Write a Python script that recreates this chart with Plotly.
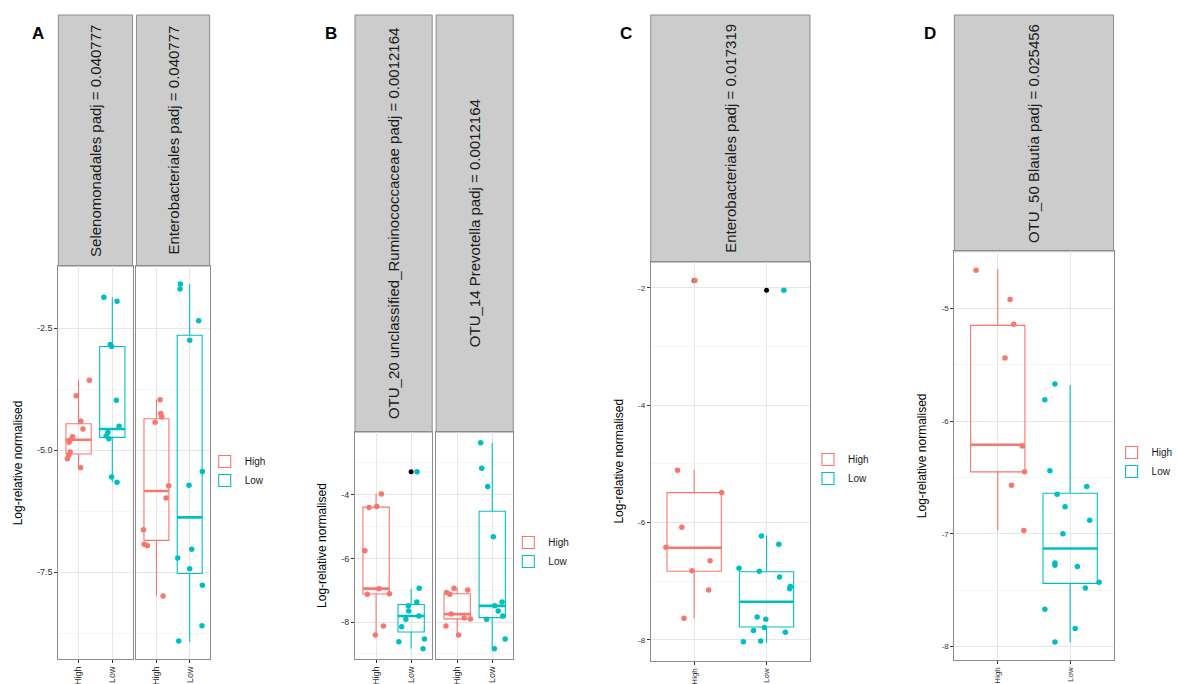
import plotly.graph_objects as go

W, H = 1178, 684
RED = '#F8766D'
TEAL = '#00BFC4'
FONT = 'Liberation Sans, Arial, sans-serif'

GROUPS = ['High', 'Low']
Y_TITLE = 'Log-relative normalised'

# ---------------- data ----------------
# box stats: [lower whisker, q1, median, q3, upper whisker]
# Panel A, facet 1: Selenomonadales
A1_HIGH = [-3.57, -3.89, -4.41, -4.57, -4.73, -4.80, -4.84, -5.04, -5.10, -5.18, -5.36]
A1_HIGH_JIT = [0.32, -0.07, 0.07, 0.13, -0.18, -0.26, -0.28, -0.25, -0.29, -0.33, 0.06]
A1_HIGH_BOX = [-5.36, -5.08, -4.79, -4.46, -3.57]
A1_LOW = [-1.87, -1.95, -2.84, -2.88, -3.98, -4.51, -4.64, -4.71, -4.77, -5.55, -5.66]
A1_LOW_JIT = [-0.25, 0.14, -0.06, -0.02, 0.12, 0.20, -0.13, -0.18, -0.10, -0.02, 0.14]
A1_LOW_BOX = [-5.66, -4.74, -4.57, -2.88, -1.87]

# Panel A, facet 2: Enterobacteriales
A2_HIGH = [-3.97, -4.25, -4.32, -4.43, -5.73, -5.98, -6.63, -6.93, -6.96, -7.99]
A2_HIGH_JIT = [0.11, 0.13, 0.16, -0.04, 0.37, 0.29, -0.39, -0.37, -0.27, 0.20]
A2_HIGH_BOX = [-7.99, -6.85, -5.84, -4.36, -3.97]
A2_LOW = [-1.60, -1.70, -2.35, -2.75, -5.44, -5.72, -7.03, -7.21, -7.43, -7.77, -8.60, -8.91]
A2_LOW_JIT = [-0.28, -0.29, 0.27, 0.0, 0.38, -0.02, 0.06, -0.36, 0.0, 0.38, 0.37, -0.33]
A2_LOW_BOX = [-8.93, -7.53, -6.38, -2.65, -1.60]

# Panel B, facet 1: OTU_20
B1_HIGH = [-3.98, -4.40, -4.37, -5.76, -6.95, -7.13, -7.11, -8.12, -8.41]
B1_HIGH_JIT = [0.15, -0.20, 0.02, -0.32, 0.08, -0.25, 0.38, 0.21, -0.02]
B1_HIGH_BOX = [-8.41, -7.12, -6.95, -4.39, -3.98]
B1_LOW = [-3.28, -6.94, -7.49, -7.37, -7.65, -7.81, -7.91, -8.15, -8.62, -8.53, -8.84]
B1_LOW_JIT = [0.17, 0.23, -0.08, 0.16, -0.07, 0.22, -0.15, -0.27, -0.35, 0.38, 0.34]
B1_LOW_BOX = [-8.84, -8.31, -7.81, -7.45, -6.95]
B1_LOW_OUT = [-3.28]

# Panel B, facet 2: OTU_14
B2_HIGH = [-6.94, -6.99, -7.07, -7.13, -7.75, -7.87, -7.90, -8.12, -8.41]
B2_HIGH_JIT = [-0.09, 0.30, -0.30, -0.21, -0.17, 0.20, 0.38, -0.32, 0.04]
B2_HIGH_BOX = [-8.41, -7.90, -7.75, -7.11, -6.93]
B2_LOW = [-2.37, -3.17, -3.74, -5.32, -7.49, -7.37, -7.65, -7.81, -7.91, -8.53, -8.84]
B2_LOW_JIT = [-0.33, -0.30, -0.13, 0.03, 0.07, 0.28, 0.17, 0.30, -0.16, 0.37, 0.06]
B2_LOW_BOX = [-8.84, -7.86, -7.49, -4.52, -2.37]

# Panel C: Enterobacteriales
C_HIGH = [-1.875, -5.11, -5.49, -6.08, -6.42, -6.65, -6.82, -7.15, -7.63]
C_HIGH_JIT = [0.01, -0.23, 0.38, -0.17, -0.39, 0.22, -0.03, 0.20, -0.14]
C_HIGH_BOX = [-7.63, -6.83, -6.43, -5.49, -5.10]
C_HIGH_OUT = [-1.875]
C_LOW = [-2.04, -6.23, -6.37, -6.78, -6.83, -6.93, -7.09, -7.13, -7.61, -7.65, -7.79, -7.84, -7.87, -8.03, -8.02]
C_LOW_JIT = [0.24, -0.07, 0.17, -0.38, -0.10, 0.18, 0.33, 0.32, -0.13, -0.01, -0.03, -0.18, 0.26, -0.32, -0.08]
C_LOW_BOX = [-8.05, -7.78, -7.35, -6.84, -6.22]
C_LOW_OUT = [-2.04]

# Panel D: OTU_50 Blautia
D_HIGH = [-4.66, -4.92, -5.14, -5.44, -6.22, -6.45, -6.57, -6.97]
D_HIGH_JIT = [-0.30, 0.17, 0.22, 0.10, 0.34, 0.37, 0.19, 0.36]
D_HIGH_BOX = [-6.97, -6.45, -6.21, -5.15, -4.65]
D_LOW = [-5.67, -5.81, -6.44, -6.58, -6.65, -6.76, -6.88, -7.00, -7.26, -7.28, -7.29, -7.43, -7.48, -7.67, -7.84, -7.96]
D_LOW_JIT = [-0.21, -0.35, -0.28, 0.23, -0.18, -0.07, 0.27, -0.10, -0.21, -0.21, 0.10, 0.40, 0.21, -0.35, 0.07, -0.21]
D_LOW_BOX = [-7.96, -7.44, -7.13, -6.64, -5.68]

# strip labels
STRIP_A1 = 'Selenomonadales padj = 0.040777'
STRIP_A2 = 'Enterobacteriales padj = 0.040777'
STRIP_B1 = 'OTU_20 unclassified_Ruminococcaceae padj = 0.0012164'
STRIP_B2 = 'OTU_14 Prevotella padj = 0.0012164'
STRIP_C = 'Enterobacteriales padj = 0.017319'
STRIP_D = 'OTU_50 Blautia padj = 0.025456'

# y tick values / labels
TICKS_A = [-7.5, -5.0, -2.5]
TICKTEXT_A = ['-7.5', '-5.0', '-2.5']
TICKS_B = [-8, -6, -4]
TICKTEXT_B = ['-8', '-6', '-4']
TICKS_C = [-8, -6, -4, -2]
TICKTEXT_C = ['-8', '-6', '-4', '-2']
TICKS_D = [-8, -7, -6, -5]
TICKTEXT_D = ['-8', '-7', '-6', '-5']

# ---------------- layout geometry (pixels) ----------------
FACETS = [
    dict(n=1, panel='A', first=True, strip=STRIP_A1, x=(59, 134), strip_top=15, y=(266, 659),
         yrange=(-9.28, -1.23), ticks=(TICKS_A, TICKTEXT_A), minor=1.25,
         high=(A1_HIGH, A1_HIGH_JIT, A1_HIGH_BOX, []), low=(A1_LOW, A1_LOW_JIT, A1_LOW_BOX, []),
         legend='legend', tick_size=9),
    dict(n=2, panel='A', first=False, strip=STRIP_A2, x=(138, 212), strip_top=15, y=(266, 659),
         yrange=(-9.28, -1.23), ticks=(TICKS_A, TICKTEXT_A), minor=1.25,
         high=(A2_HIGH, A2_HIGH_JIT, A2_HIGH_BOX, []), low=(A2_LOW, A2_LOW_JIT, A2_LOW_BOX, []),
         legend='legend', tick_size=9),
    dict(n=3, panel='B', first=True, strip=STRIP_B1, x=(359, 437), strip_top=15, y=(432, 659),
         yrange=(-9.16, -2.03), ticks=(TICKS_B, TICKTEXT_B), minor=1,
         high=(B1_HIGH, B1_HIGH_JIT, B1_HIGH_BOX, []), low=(B1_LOW, B1_LOW_JIT, B1_LOW_BOX, B1_LOW_OUT),
         legend='legend2', tick_size=9),
    dict(n=4, panel='B', first=False, strip=STRIP_B2, x=(441, 519), strip_top=15, y=(432, 659),
         yrange=(-9.16, -2.03), ticks=(TICKS_B, TICKTEXT_B), minor=1,
         high=(B2_HIGH, B2_HIGH_JIT, B2_HIGH_BOX, []), low=(B2_LOW, B2_LOW_JIT, B2_LOW_BOX, []),
         legend='legend2', tick_size=9),
    dict(n=5, panel='C', first=True, strip=STRIP_C, x=(658, 819), strip_top=15, y=(262, 661),
         yrange=(-8.36, -1.56), ticks=(TICKS_C, TICKTEXT_C), minor=1,
         high=(C_HIGH, C_HIGH_JIT, C_HIGH_BOX, C_HIGH_OUT), low=(C_LOW, C_LOW_JIT, C_LOW_BOX, C_LOW_OUT),
         legend='legend3', tick_size=8),
    dict(n=6, panel='D', first=True, strip=STRIP_D, x=(965, 1126), strip_top=15, y=(251, 660),
         yrange=(-8.12, -4.49), ticks=(TICKS_D, TICKTEXT_D), minor=0.5,
         high=(D_HIGH, D_HIGH_JIT, D_HIGH_BOX, []), low=(D_LOW, D_LOW_JIT, D_LOW_BOX, []),
         legend='legend4', tick_size=8),
]

LEGENDS = {
    'legend': (207, 447),
    'legend2': (514, 528),
    'legend3': (817, 445),
    'legend4': (1124, 438),
}

PANEL_LETTERS = [('A', 38, 33), ('B', 335, 33), ('C', 633, 33), ('D', 940, 33)]
Y_TITLES = [(18, 266, 659), (325, 432, 659), (625, 262, 661), (932, 251, 660)]

BOX_WIDTH = 0.75

fig = go.Figure()
shapes = []
annotations = []
layout = {}


def xdom(a, b):
    return [a / W, b / W]


def ydom(top, bot):
    return [1 - bot / H, 1 - top / H]


for f in FACETS:
    n = f['n']
    xa = 'x' if n == 1 else f'x{n}'
    ya = 'y' if n == 1 else f'y{n}'
    for gi, (gname, color, grp) in enumerate([('High', RED, f['high']), ('Low', TEAL, f['low'])]):
        vals, jit, box, outs = grp
        pos = gi + 1
        fig.add_trace(go.Box(
            x=[pos], lowerfence=[box[0]], q1=[box[1]], median=[box[2]], q3=[box[3]],
            upperfence=[box[4]], width=BOX_WIDTH, whiskerwidth=0,
            line=dict(color=color, width=1.1), fillcolor='rgba(255,255,255,0)',
            boxpoints=False, name=gname, xaxis=xa, yaxis=ya, legend=f['legend'],
            showlegend=f['first'], hoverinfo='skip'))
        # thick median line
        fig.add_trace(go.Scatter(
            x=[pos - BOX_WIDTH / 2, pos + BOX_WIDTH / 2], y=[box[2], box[2]], mode='lines',
            line=dict(color=color, width=2.6), xaxis=xa, yaxis=ya, showlegend=False,
            hoverinfo='skip'))
        if outs:
            fig.add_trace(go.Scatter(
                x=[pos] * len(outs), y=outs, mode='markers',
                marker=dict(color='black', size=5), xaxis=xa, yaxis=ya, showlegend=False))
        fig.add_trace(go.Scatter(
            x=[pos + j for j in jit], y=vals, mode='markers',
            marker=dict(color=color, size=5.5), xaxis=xa, yaxis=ya, showlegend=False))

    xkey = 'xaxis' if n == 1 else f'xaxis{n}'
    ykey = 'yaxis' if n == 1 else f'yaxis{n}'
    layout[xkey] = dict(
        domain=xdom(*f['x']), anchor=ya, range=[0.4, 2.6],
        tickmode='array', tickvals=[1, 2], ticktext=GROUPS, tickangle=-90,
        ticks='outside', ticklen=3, tickcolor='#333333', tickwidth=1,
        tickfont=dict(size=f['tick_size'], color='#333333', family=FONT),
        showgrid=True, gridcolor='#E6E6E6', gridwidth=1, zeroline=False,
        showline=True, mirror=True, linecolor='#8C8C8C', linewidth=1, fixedrange=True)
    tv, tt = f['ticks']
    layout[ykey] = dict(
        domain=ydom(*f['y']), anchor=xa, range=list(f['yrange']),
        tickmode='array', tickvals=tv, ticktext=tt,
        showticklabels=f['first'], ticks='outside' if f['first'] else '',
        ticklen=3, tickcolor='#333333', tickwidth=1,
        tickfont=dict(size=f['tick_size'], color='#333333', family=FONT),
        showgrid=True, gridcolor='#E6E6E6', gridwidth=1, zeroline=False,
        minor=dict(tickmode='linear', tick0=0, dtick=f['minor'], showgrid=True,
                   gridcolor='#F4F4F4', gridwidth=1, ticks=''),
        showline=True, mirror=True, linecolor='#8C8C8C', linewidth=1, fixedrange=True)

    # strip
    x0, x1 = f['x']
    top, bot = f['strip_top'], f['y'][0]
    shapes.append(dict(type='rect', xref='paper', yref='paper',
                       x0=x0 / W, x1=x1 / W, y0=1 - bot / H, y1=1 - top / H,
                       fillcolor='#CCCCCC', line=dict(color='#8C8C8C', width=1), layer='below'))
    annotations.append(dict(text=f['strip'], xref='paper', yref='paper',
                            x=(x0 + x1) / 2 / W, y=1 - (top + bot) / 2 / H,
                            textangle=-90, showarrow=False, xanchor='center', yanchor='middle',
                            font=dict(size=15, color='#1A1A1A', family=FONT)))

for letter, lx, ly in PANEL_LETTERS:
    annotations.append(dict(text=f'<b>{letter}</b>', xref='paper', yref='paper',
                            x=lx / W, y=1 - ly / H, showarrow=False,
                            xanchor='center', yanchor='middle',
                            font=dict(size=17, color='black', family=FONT)))

for tx, t0, t1 in Y_TITLES:
    annotations.append(dict(text=Y_TITLE, xref='paper', yref='paper',
                            x=tx / W, y=1 - (t0 + t1) / 2 / H, textangle=-90, showarrow=False,
                            xanchor='center', yanchor='middle',
                            font=dict(size=12, color='black', family=FONT)))

for lname, (lx, ly) in LEGENDS.items():
    layout[lname] = dict(x=lx / W, y=1 - ly / H, xanchor='left', yanchor='top',
                         bgcolor='rgba(255,255,255,0)', borderwidth=0,
                         font=dict(size=10, color='#1A1A1A', family=FONT),
                         tracegroupgap=0, itemwidth=30, itemclick=False)

fig.update_layout(
    width=W, height=H, margin=dict(l=0, r=0, t=0, b=0),
    paper_bgcolor='white', plot_bgcolor='white',
    shapes=shapes, annotations=annotations, boxmode='overlay',
    font=dict(family=FONT), **layout)

fig.write_html(
    'out.html',
    config={'responsive': False, 'displayModeBar': False},
    post_script="document.body.style.margin='0';document.body.style.overflow='hidden';",
)
